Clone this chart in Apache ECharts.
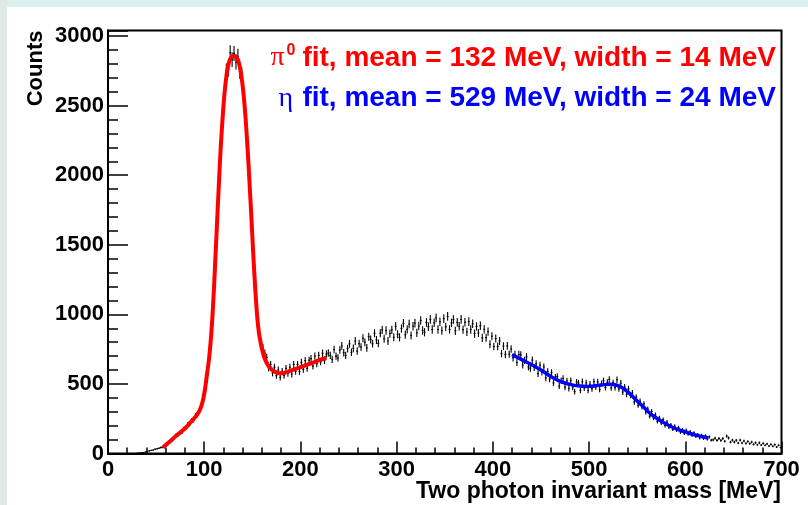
<!DOCTYPE html>
<html>
<head>
<meta charset="utf-8">
<script src="https://cdn.jsdelivr.net/npm/echarts@6/dist/echarts.min.js"></script>
<style>
  html, body { margin: 0; padding: 0; background: #fff; }
  #chart { width: 808px; height: 505px; }
</style>
</head>
<body>
<div id="chart"></div>
<script>
// Two-photon invariant mass histogram: 2 MeV bins starting at 30 MeV
const massLow = 30;
const binWidth = 2;
const counts = [
  3, 4, 6, 7, 11, 14, 19, 22, 25, 31, 34, 38, 43,
  45, 51, 72, 76, 96, 96, 120, 136, 133, 155,
  153, 181, 182, 211, 210, 239, 238, 275, 277, 315,
  334, 405, 458, 592, 668, 855, 1020, 1340, 1585, 1935,
  2150, 2438, 2555, 2750, 2760, 2880, 2830, 2875, 2812, 2855,
  2745, 2725, 2547, 2445, 2170, 1992, 1675, 1460, 1168, 1018,
  875, 805, 760, 720, 690, 615, 640, 578, 620, 560,
  600, 548, 590, 560, 612, 575, 620, 570, 640, 590,
  640, 588, 655, 605, 668, 612, 670, 682, 628, 700,
  645, 705, 660, 720, 668, 715,
  722, 705, 677, 747, 700,
  687, 744, 773, 724, 705,
  754, 788, 727, 756, 808,
  736, 789, 765, 828, 799,
  759, 839, 819, 789, 864,
  816, 791, 864, 889, 824,
  884, 808, 862, 889, 835,
  914, 857, 835, 898, 936,
  854, 892, 930, 848, 914,
  937, 867, 916, 956, 884,
  871, 942, 911, 964, 891,
  939, 975, 891, 947, 883,
  969, 910, 985, 892, 939,
  963, 882, 943, 914, 964,
  890, 943, 874, 948, 891,
  932, 862, 913, 866, 918,
  831, 892, 832, 876, 785,
  843, 769, 826, 770, 809,
  718, 772, 712, 773, 714,
  751, 688, 711, 654, 711,
  709, 636, 669, 695, 622,
  613, 671, 618, 645, 574,
  634, 584, 622, 543, 589,
  535, 581, 507, 548, 553,
  485, 524, 539, 477, 521,
  468, 523, 477, 445, 513,
  506, 455, 516, 471, 507,
  454, 498, 465, 517, 478,
  515, 461, 503, 523, 474,
  511, 532, 472, 508, 474,
  530, 465, 505, 442, 477,
  425, 465, 418, 435, 370,
  405, 347, 376, 335, 357,
  298, 320, 267, 302, 255,
  278, 230, 256, 220, 244,
  201, 226, 189, 205, 174,
  196, 167, 186, 154, 170,
  145, 167, 140, 156, 130,
  148, 122, 136, 112, 131,
  108, 127, 104, 119, 96,
  98, 110, 94, 108, 94, 108, 88, 125, 111, 82,
  96, 82, 95, 75, 96, 75, 90, 73, 86, 71,
  82, 65, 78, 63, 77, 61, 73, 59, 69, 54,
  65, 52, 64, 47, 59, 43
];

// pi0 fit curve (Gaussian peak on background)
const piFitMass = [
  57, 59, 61, 63, 65, 67, 69, 71, 73, 75,
  77, 79, 81, 83, 85, 87, 89, 91, 93, 95,
  97, 99, 101, 103, 105, 107, 109, 111, 113, 115,
  117, 119, 121, 123, 125, 127, 129, 131, 133, 135,
  137, 139, 141, 143, 145, 147, 149, 151, 153, 155,
  157, 159, 161, 163, 165, 167, 169, 171, 173, 175,
  177, 179, 181, 183, 185, 187, 189, 191, 193, 195,
  197, 199, 201, 203, 205, 207, 209, 211, 213, 215,
  217, 219, 221, 223, 225, 227
];
const piFitCounts = [
  42, 55, 67, 79, 90, 103, 116, 128, 139, 150,
  162, 174, 187, 202, 218, 233, 248, 265, 283, 306,
  340, 392, 470, 575, 680, 830, 1040, 1310, 1610, 1900,
  2180, 2400, 2580, 2710, 2790, 2835, 2852, 2857, 2852, 2830,
  2780, 2695, 2575, 2410, 2200, 1960, 1700, 1430, 1190, 990,
  860, 785, 725, 680, 650, 628, 612, 598, 590, 583,
  578, 576, 577, 579, 583, 588, 593, 598, 603, 608,
  613, 618, 623, 628, 633, 638, 643, 648, 653, 659,
  664, 670, 675, 679, 684, 688
];

// eta fit curve
const etaFitMass = [
  420, 430, 440, 450, 460, 470, 480, 490, 500, 510,
  516, 522, 528, 534, 540, 546, 552, 558, 564, 570,
  576, 582, 588, 594, 600, 606, 612, 618, 624
];
const etaFitCounts = [
  712, 675, 640, 600, 555, 518, 497, 485, 482, 490,
  495, 497, 492, 475, 445, 405, 365, 325, 285, 255,
  228, 205, 185, 168, 155, 142, 130, 120, 111
];

const xTicks = { min: 0, max: 700, step: 100, minorSplit: 5 };
const yTicks = { min: 0, max: 3040, step: 500, minorStep: 100 };

const piLabel = ['\u03c0', '0', 'fit, mean = 132 MeV, width = 14 MeV'];
const etaLabel = ['\u03b7', 'fit, mean = 529 MeV, width = 24 MeV'];
const xTitle = 'Two photon invariant mass [MeV]';
const yTitle = 'Counts';

const histData = counts.map((c, i) => [massLow + binWidth * (i + 0.5), c]);
const piFitData = piFitMass.map((m, i) => [m, piFitCounts[i]]);
const etaFitData = etaFitMass.map((m, i) => [m, etaFitCounts[i]]);

const SANS = 'Liberation Sans, Arial, Helvetica, sans-serif';
const SERIF = 'Liberation Serif, Times New Roman, serif';
const LEGEND_FONT = 'bold 28px ' + SANS;

// right edge of the fit-result text block; the Greek symbols sit just left of it
const legendRight = 776;
const measureCtx = document.createElement('canvas').getContext('2d');
measureCtx.font = LEGEND_FONT;
const piTextLeft = legendRight - measureCtx.measureText(piLabel[2]).width;
const etaTextLeft = legendRight - measureCtx.measureText(etaLabel[1]).width;

const chart = echarts.init(document.getElementById('chart'), null, { renderer: 'canvas' });

const labelStyle = { color: '#000', fontFamily: SANS, fontWeight: 'bold', fontSize: 22 };

chart.setOption({
  animation: false,
  backgroundColor: '#fff',
  grid: {
    left: 108, right: 26.5, top: 30.5, bottom: 51.5,
    show: true, backgroundColor: '#fff', borderColor: '#000', borderWidth: 2
  },
  xAxis: {
    type: 'value', min: xTicks.min, max: xTicks.max, interval: xTicks.step,
    axisLine: { show: true, onZero: false, lineStyle: { color: '#000', width: 2 } },
    axisTick: { show: true, inside: true, length: 12, lineStyle: { color: '#000', width: 1.5 } },
    minorTick: { show: true, splitNumber: xTicks.minorSplit, length: 6, lineStyle: { color: '#000', width: 1.5 } },
    splitLine: { show: false },
    axisLabel: Object.assign({ margin: 5 }, labelStyle)
  },
  yAxis: [
    {
      type: 'value', min: yTicks.min, max: yTicks.max, interval: yTicks.step,
      axisLine: { show: true, onZero: false, lineStyle: { color: '#000', width: 2 } },
      axisTick: { show: true, inside: true, length: 20, lineStyle: { color: '#000', width: 1.5 } },
      splitLine: { show: false },
      axisLabel: Object.assign({
        margin: 4,
        formatter: v => (v % yTicks.step === 0 ? String(v) : '')
      }, labelStyle)
    },
    {
      type: 'value', min: yTicks.min, max: yTicks.max, interval: yTicks.minorStep,
      position: 'left',
      axisLine: { show: false },
      axisTick: { show: true, inside: true, length: 10, lineStyle: { color: '#000', width: 1.5 } },
      splitLine: { show: false },
      axisLabel: { show: false }
    }
  ],
  series: [
    {
      type: 'custom',
      name: 'data',
      data: histData,
      z: 2,
      renderItem: function (params, api) {
        const x = api.value(0);
        const y = api.value(1);
        const err = Math.sqrt(y);
        const lo = api.coord([x, Math.max(y - err, 0)]);
        const hi = api.coord([x, y + err]);
        const l = api.coord([x - binWidth / 2, y]);
        const r = api.coord([x + binWidth / 2, y]);
        return {
          type: 'group',
          children: [
            { type: 'line', shape: { x1: lo[0], y1: lo[1], x2: hi[0], y2: hi[1] }, style: { stroke: '#000', lineWidth: 1.1 } },
            { type: 'line', shape: { x1: l[0], y1: l[1], x2: r[0], y2: r[1] }, style: { stroke: '#000', lineWidth: 1.1 } }
          ]
        };
      }
    },
    {
      type: 'line', name: 'pi0 fit', data: piFitData, z: 5,
      showSymbol: false, smooth: 0.3,
      lineStyle: { color: '#ff0000', width: 4 }
    },
    {
      type: 'line', name: 'eta fit', data: etaFitData, z: 5,
      showSymbol: false, smooth: 0.4,
      lineStyle: { color: '#0000ff', width: 3.5 }
    }
  ],
  graphic: [
    { type: 'rect', z: -1, silent: true, shape: { x: 0, y: 0, width: 808, height: 7 }, style: { fill: '#dcefef' } },
    { type: 'rect', z: -1, silent: true, shape: { x: 0, y: 0, width: 7, height: 505 }, style: { fill: '#dfe7e7' } },
    {
      type: 'text', z: 100, x: 36, y: 30.5, rotation: Math.PI / 2,
      style: { text: yTitle, align: 'right', verticalAlign: 'middle', fill: '#000', font: 'bold 22px ' + SANS }
    },
    {
      type: 'text', z: 100, x: 781, y: 491.5,
      style: { text: xTitle, align: 'right', verticalAlign: 'middle', fill: '#000', font: 'bold 23px ' + SANS }
    },
    {
      type: 'text', z: 100, x: piTextLeft - 32, y: 58,
      style: { text: piLabel[0], align: 'left', verticalAlign: 'middle', fill: '#ff0000', font: '28px ' + SERIF }
    },
    {
      type: 'text', z: 100, x: piTextLeft - 16, y: 50.5,
      style: { text: piLabel[1], align: 'left', verticalAlign: 'middle', fill: '#ff0000', font: 'bold 16px ' + SANS }
    },
    {
      type: 'text', z: 100, x: legendRight, y: 58,
      style: { text: piLabel[2], align: 'right', verticalAlign: 'middle', fill: '#ff0000', font: LEGEND_FONT }
    },
    {
      type: 'text', z: 100, x: etaTextLeft - 24, y: 98.5,
      style: { text: etaLabel[0], align: 'left', verticalAlign: 'middle', fill: '#0000ff', font: '28px ' + SERIF }
    },
    {
      type: 'text', z: 100, x: legendRight, y: 98.5,
      style: { text: etaLabel[1], align: 'right', verticalAlign: 'middle', fill: '#0000ff', font: LEGEND_FONT }
    }
  ]
});
</script>
</body>
</html>
